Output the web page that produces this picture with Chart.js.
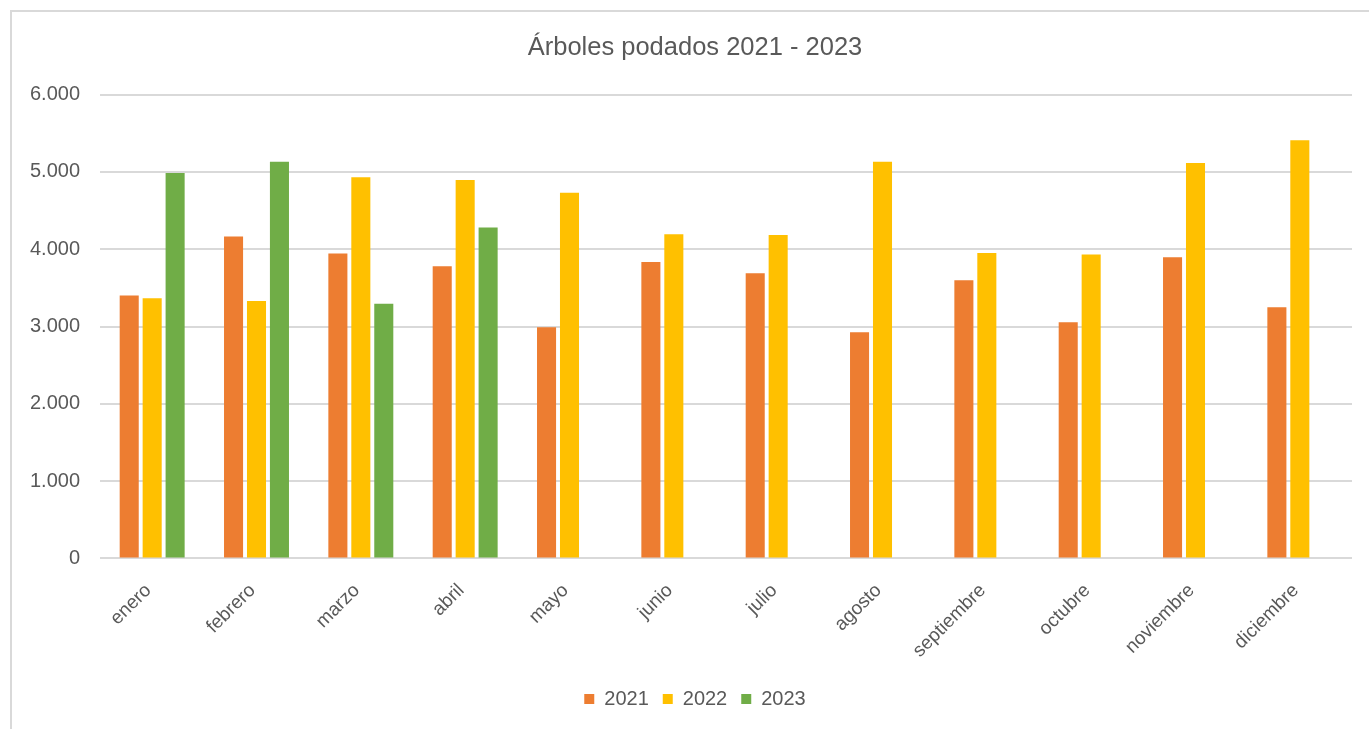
<!DOCTYPE html>
<html>
<head>
<meta charset="utf-8">
<script src="https://cdn.jsdelivr.net/npm/chart.js@4.4.1/dist/chart.umd.min.js"></script>
<style>
  html, body { margin: 0; padding: 0; background: #fff; overflow: hidden; }
  #frame { position: absolute; left: 10px; top: 10px; width: 1380px; height: 740px; border: 2px solid #d9d9d9; box-sizing: border-box; }
  #wrap { position: absolute; left: 10px; top: 0; width: 1370px; height: 729px; }
</style>
</head>
<body>
<div id="frame"></div>
<div id="wrap"><canvas id="chart1"></canvas></div>
<script>
// Datos
const meses = ['enero', 'febrero', 'marzo', 'abril', 'mayo', 'junio', 'julio', 'agosto', 'septiembre', 'octubre', 'noviembre', 'diciembre'];
const datos2021 = [3400, 4165, 3945, 3780, 2990, 3835, 3690, 2925, 3600, 3055, 3895, 3250];
const datos2022 = [3365, 3330, 4930, 4895, 4730, 4195, 4185, 5130, 3950, 3930, 5115, 5410];
const datos2023 = [4985, 5130, 3295, 4280, null, null, null, null, null, null, null, null];
const ticksY = [0, 1000, 2000, 3000, 4000, 5000, 6000];

const fuente = 'Liberation Sans, Arial, sans-serif';
const gris = '#595959';

// formato con punto de miles
const fmt = v => String(v).replace(/\B(?=(\d{3})+(?!\d))/g, '.');

const serie = (label, data, color) => ({
  label: label,
  data: data,
  backgroundColor: color,
  borderColor: color,
  borderWidth: 0,
  categoryPercentage: 0.66,
  barPercentage: 0.83
});

const ctx = document.getElementById('chart1').getContext('2d');
new Chart(ctx, {
  type: 'bar',
  data: {
    labels: meses,
    datasets: [
      serie('2021', datos2021, '#ED7D31'),
      serie('2022', datos2022, '#FFC000'),
      serie('2023', datos2023, '#70AD47')
    ]
  },
  options: {
    animation: false,
    responsive: true,
    maintainAspectRatio: false,
    layout: { padding: { left: 0, right: 0, top: 0, bottom: 10 } },
    scales: {
      x: {
        grid: { display: false },
        border: { display: false },
        ticks: {
          color: gris,
          font: { family: fuente, size: 19 },
          minRotation: 45,
          maxRotation: 45,
          autoSkip: false,
          padding: 13,
          labelOffset: -4
        }
      },
      y: {
        min: 0,
        max: 6000,
        afterFit: s => { s.width = 90; },
        afterBuildTicks: s => { s.ticks = ticksY.map(v => ({ value: v })); },
        grid: { color: '#d9d9d9', lineWidth: 2, drawTicks: false },
        border: { display: false },
        ticks: {
          color: gris,
          padding: 20,
          font: { family: fuente, size: 20 },
          callback: v => fmt(v)
        }
      },
      // eje vacío a la derecha para dejar margen sin descentrar título y leyenda
      margen: {
        position: 'right',
        grid: { display: false },
        border: { display: false },
        ticks: { display: false },
        afterFit: s => { s.width = 28; }
      }
    },
    plugins: {
      title: {
        display: true,
        text: 'Árboles podados 2021 - 2023',
        color: gris,
        font: { family: fuente, size: 25.5, weight: 'normal' },
        padding: { top: 33, bottom: 31 }
      },
      legend: {
        position: 'bottom',
        labels: {
          color: gris,
          font: { family: fuente, size: 20 },
          boxWidth: 10,
          boxHeight: 10,
          padding: 14
        }
      },
      tooltip: { enabled: false }
    }
  }
});
</script>
</body>
</html>
